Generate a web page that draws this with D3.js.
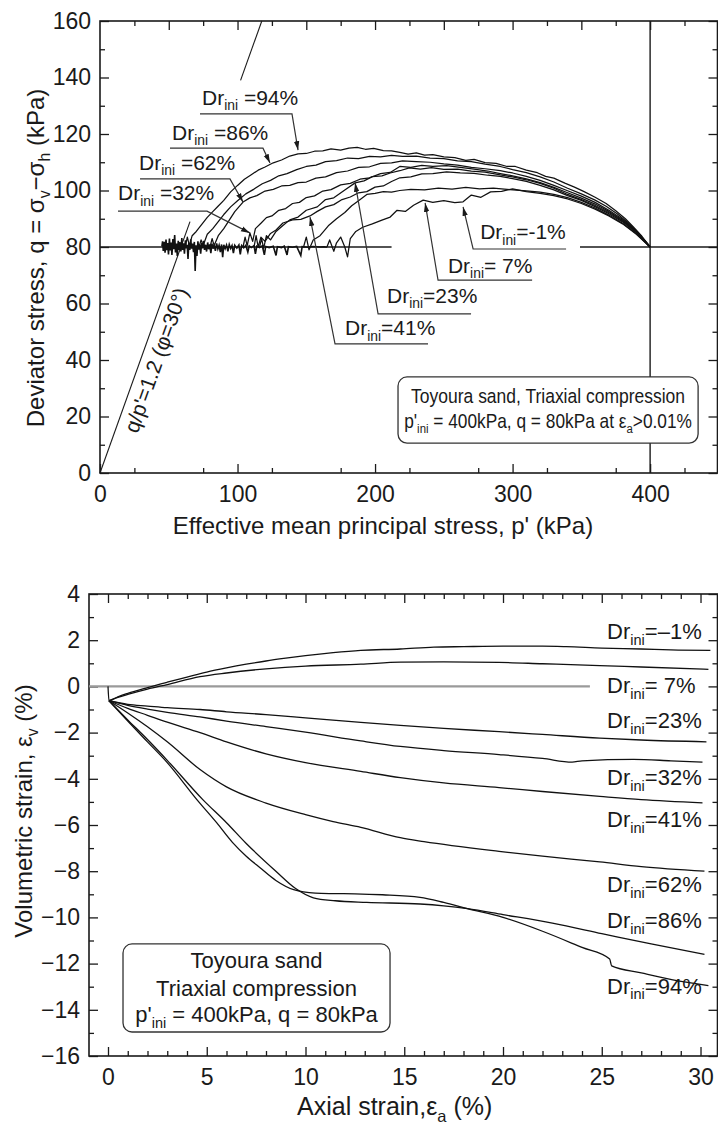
<!DOCTYPE html>
<html>
<head>
<meta charset="utf-8">
<script src="https://cdn.jsdelivr.net/npm/d3@7"></script>
<style>
  body { margin: 0; background: #fff; }
  svg { display: block; font-family: "Liberation Sans", Arial, sans-serif; }
</style>
</head>
<body>
<svg id="chart" width="718" height="1125"></svg>
<script>
// ---------- top panel data: stress paths (p', q) in kPa ----------
const pTicks = [0, 100, 200, 300, 400];
const qTicks = [0, 20, 40, 60, 80, 100, 120, 140, 160];
const qInitial = 80;
const pInitial = 400;
const phiRatio = 1.36;   // slope of the drawn q/p' line

const pathDr94 = [[62,80],[63.5,83.5],[65,80.5],[67,84],[70,85.5],[74,88],[78,90.5],[82,92.5],[86,94.5],[90,96.5],[95,99.5],[100,101.8],[105,104],[110,105.6],[115,107.2],[120,108.3],[126,109.8],[132,110.8],[138,112.2],[144,113],[150,113.1],[156,113.9],[162,114],[168,114.7],[175,114.3],[181,115],[187,115.3],[193,114.6],[199,114.9],[206,114.1],[212,114],[218,113.5],[224,112.9],[230,113.3],[236,112.5],[242,112.7],[250,111.9],[258,111.6],[266,110.7],[272,111],[280,109.9],[288,109.6],[296,108.5],[302,108.5],[310,107.2],[318,106.3],[324,105],[330,104.4],[338,102.6],[345,101.2],[352,99.6],[360,97.6],[368,95.4],[375,92.8],[382,90],[388,87],[394,83.8],[400,80]];
const pathDr86 = [[72,80],[73.5,82.5],[75,80.5],[78,84.5],[82,86.5],[86,89],[90,91.5],[95,94.2],[100,96.4],[106,98.8],[112,100.5],[118,102.4],[124,103.6],[130,105.2],[136,106],[143,107.4],[150,108.5],[157,109],[164,110.2],[172,110.6],[180,111.5],[188,111.3],[196,112.1],[204,111.9],[212,112.4],[220,112.1],[230,112.2],[240,111.5],[250,111.3],[260,110.5],[270,110.2],[280,109.3],[291,108.5],[300,107.4],[310,106.3],[320,104.8],[330,103],[340,100.8],[350,98.8],[360,96.6],[368,94.4],[376,91.8],[384,88.6],[392,84.7],[400,80]];
const pathDr62 = [[80,80],[81.5,83],[83,80.5],[86,84],[90,86.5],[94,89.5],[98,92.5],[104,95.9],[109,97.4],[114,98.2],[120,99.8],[126,100.4],[132,101.6],[138,101.8],[144,102.8],[150,103],[157,104.4],[164,104.8],[172,106.3],[180,106.9],[188,108.2],[196,108.4],[204,109.6],[212,109.8],[220,110.5],[230,110.2],[240,110],[250,109.4],[260,109],[270,108.2],[280,107.7],[291,107],[300,106.2],[310,105],[320,103.6],[330,101.8],[340,99.9],[350,98],[360,95.8],[370,93],[380,89.8],[390,85.6],[400,80]];
const pathDr32 = [[104,80],[105.5,83.5],[107,80.5],[109,85],[111,82],[113,86.5],[117,88.4],[121,90.4],[125,91],[130,93],[135,93.6],[140,95.4],[145,95.8],[150,97.5],[156,98.1],[162,99.8],[168,100.3],[175,102],[182,102.5],[189,104],[196,104.5],[204,106],[211,106.4],[218,108.5],[226,108.2],[234,108.9],[242,108.5],[252,108.8],[262,108.2],[272,107.6],[282,106.9],[291,106],[300,105.2],[310,104.1],[320,102.8],[330,101.1],[340,99.2],[350,97.3],[360,95.2],[370,92.6],[380,89.5],[390,85.5],[400,80]];
const pathDr41 = [[112,80],[113.5,84],[115,80],[117,83.5],[120,82],[124,84.8],[128,86],[133,88.5],[140,89.6],[146,89.8],[152.7,91],[158,92.6],[164,94.2],[170,95],[176,96.8],[182,97.7],[188,99.2],[194,99.6],[200,101.2],[206,101.6],[212,103.2],[218,104.5],[226,104.8],[234,105.9],[242,106],[252,106.6],[262,106.2],[272,106.1],[282,105.4],[291,105],[300,104.2],[310,103.2],[320,101.8],[330,100.2],[340,98.2],[350,96.5],[360,94.3],[370,91.8],[380,88.9],[390,85],[400,80]];
const pathDr23 = [[116,80],[117.5,83],[119,79.5],[121,84],[124,82.5],[128,85.5],[133,87.6],[138,89.6],[144,90.6],[150,93],[158,94.2],[164,96.8],[170,97.4],[178,100.2],[185.5,102.7],[192,103.4],[198,104.9],[205,105.2],[211,106.2],[218,107],[225,108],[233,107.6],[241,108.1],[250,107.5],[260,107.6],[270,106.9],[280,106.5],[291,105.5],[300,104.8],[310,103.8],[320,102.5],[330,100.8],[340,98.6],[350,96.8],[360,94.7],[370,92.2],[380,89.2],[390,85.3],[400,80]];
const pathDr7 = [[148,80],[150,83.5],[152,79],[155,82.5],[160,84],[166,87.5],[172,90],[178,92.2],[183,94.6],[188,96.4],[194,98.6],[200,99],[206,99.6],[212,99.4],[218,100],[226,100.4],[236,100.2],[246,100.8],[256,100.5],[266,101.1],[276,100.6],[286,100.8],[298,100.3],[310,99.9],[320,99.4],[330,98.6],[340,97.5],[350,95.8],[360,93.8],[370,91.3],[380,88.4],[390,84.7],[400,80]];
const pathDrM1 = [[165,80],[167,82.5],[170,78.5],[172,81.5],[175,83.5],[178,80],[180,76.5],[182,83],[186,85.5],[191,87],[198,88.2],[205,89.5],[211,90.6],[216,93],[222,92.6],[228,94.8],[235,96.6],[242,95.8],[250,96.4],[258,95.7],[264,96],[270,98.4],[277,97.6],[284,99.5],[292,99.7],[300,100.6],[310,99.6],[320,99],[330,98.2],[340,97],[350,95.4],[360,93.4],[370,91],[380,88.2],[390,84.5],[400,80]];
// scatter of readings while q was held at 80 kPa
const noise80 = [[45,80.2],[45.5,82],[46,78.6],[46.8,81.8],[47.3,78],[48,82.6],[48.6,78.9],[49.2,81.4],[49.8,77.4],[50.5,83],[51,78.8],[51.7,81.6],[52.3,77.2],[53,82.8],[53.6,79.2],[54.3,84.2],[54.9,78.1],[55.6,81.2],[56.2,76.8],[56.9,82.2],[57.5,79],[58.2,81.7],[58.8,78.4],[59.5,83.2],[60.1,79],[60.8,81.3],[61.4,77.6],[62.1,82.4],[62.7,79.5],[63.4,80.8],[64,75.8],[64.6,81.4],[65.3,79],[66,82.7],[66.6,79.4],[67.3,81.2],[68,78.2],[68.6,81.8],[69.2,71.5],[69.8,80.6],[70.5,76.8],[71.2,82],[71.8,79.1],[72.5,80.9],[73.2,77.6],[73.9,81.4],[74.6,79.5],[75.3,82.2],[76,79],[76.8,80.8],[77.5,78.4],[78.3,81.6],[79,79.2],[79.8,80.9],[80.6,77.8],[81.4,81.2],[82.2,79.4],[83,80.7],[83.9,78.6],[84.8,81.3],[85.7,79.3],[86.6,80.6],[87.5,78.2],[88.4,80.9],[89.2,76.4],[90,80.8],[91,79.4],[92,80.7],[93,78.5],[94,80.9],[95,79.5],[96,80.5],[97,77.8],[98,80.6],[99.5,79.6],[101,80.7],[102,77.4],[103,80.5],[104.5,79.7],[106,80.6],[107.5,78.2],[108.5,80.4],[110,79.8],[112,80.5],[113,77.6],[114,80.3],[116,79.8],[118,80.4],[119.5,77.2],[120.5,80.2],[123,79.8],[126,80.3],[128,77],[129,80.1],[132,79.8],[134,80.3],[136,77.2],[137,80.1],[140,79.9],[143,80.2],[146,77],[147,80.1],[151,79.9],[155,80.2],[160,80],[163,80.1],[165,79.9]];
const topPaths = [pathDr94, pathDr86, pathDr62, pathDr32, pathDr41, pathDr23, pathDr7, pathDrM1];

// ---------- bottom panel data: axial strain vs volumetric strain (%) ----------
const eaTicks = [0, 5, 10, 15, 20, 25, 30];
const evTicks = [-16, -14, -12, -10, -8, -6, -4, -2, 0, 2, 4];
const zeroLine = [[-0.96, 0], [24.4, 0]];
const evDrM1 = [[0,0],[0.05,-0.62],[0.5,-0.45],[1,-0.3],[2,-0.05],[3,0.18],[4,0.4],[5,0.62],[6,0.8],[7,0.96],[8,1.1],[9,1.22],[10,1.33],[11.4,1.46],[12.8,1.56],[14.8,1.62],[16.5,1.7],[18,1.72],[20,1.74],[22,1.74],[23.2,1.72],[25,1.66],[27,1.62],[28.5,1.58],[30.5,1.56]];
const evDr7 = [[0.05,-0.62],[0.5,-0.48],[1,-0.35],[2,-0.12],[3,0.08],[4.66,0.42],[6,0.58],[8,0.76],[10,0.88],[12.8,0.96],[14.8,1.05],[17,1.06],[19.8,1.04],[22,0.98],[24.9,0.9],[27,0.84],[30.4,0.74]];
const evDr23 = [[0.05,-0.62],[1,-0.78],[2,-0.85],[3,-0.92],[4.66,-1.0],[6,-1.1],[8,-1.22],[10,-1.36],[12.8,-1.56],[14.8,-1.69],[17,-1.82],[19.8,-1.96],[22,-2.08],[24.9,-2.24],[27,-2.32],[30.3,-2.4]];
const evDr32 = [[0.05,-0.62],[1,-0.82],[2,-0.98],[3,-1.12],[4.66,-1.32],[6,-1.5],[8,-1.74],[10,-1.98],[12.8,-2.36],[14.8,-2.6],[17,-2.78],[19.8,-2.95],[22,-3.12],[23.5,-3.28],[24,-3.22],[26.6,-3.16],[28.5,-3.22],[30.1,-3.28]];
const evDr41 = [[0.05,-0.62],[1,-0.95],[2,-1.25],[3,-1.55],[4.66,-2.0],[6,-2.4],[8,-2.92],[10,-3.3],[12.8,-3.68],[14.8,-3.95],[17,-4.18],[19.8,-4.38],[22,-4.55],[24.9,-4.76],[27,-4.9],[30.1,-5.04]];
const evDr62 = [[0.05,-0.62],[1,-1.15],[2,-1.75],[3,-2.4],[4.66,-3.6],[6,-4.35],[8,-5.05],[10,-5.55],[11.4,-5.85],[12.8,-6.1],[14.8,-6.55],[16,-6.72],[19.8,-7.14],[22,-7.35],[24.9,-7.6],[27,-7.8],[30.2,-8.0]];
const evDr86 = [[0.05,-0.62],[1,-1.45],[2,-2.3],[3,-3.2],[4.8,-4.9],[6,-5.9],[7,-6.8],[8.5,-8.0],[9.5,-8.75],[10.4,-9.15],[11.5,-9.28],[13.1,-9.35],[15.8,-9.42],[17,-9.5],[18.2,-9.62],[20,-9.88],[22.5,-10.25],[25,-10.7],[27.5,-11.15],[30.2,-11.6]];
const evDr94 = [[0.05,-0.62],[1,-1.5],[2,-2.4],[3,-3.3],[4.5,-4.9],[5.5,-5.9],[6.3,-6.75],[7,-7.35],[7.7,-7.85],[8.5,-8.4],[9.4,-8.8],[10.5,-8.95],[11.4,-8.97],[12.5,-8.98],[13.9,-9.02],[15.8,-9.13],[17,-9.35],[18.2,-9.62],[20,-10.0],[22,-10.6],[24,-11.3],[25.4,-11.8],[25.5,-12.1],[27,-12.4],[28.6,-12.7],[30.4,-12.95]];
const bottomPaths = [evDrM1, evDr7, evDr23, evDr32, evDr41, evDr62, evDr86, evDr94];
const bottomLabels = ["\u20131%", " 7%", "23%", "32%", "41%", "62%", "86%", "94%"];

// ---------- layout ----------
const svg = d3.select("#chart");
const ink = "#1a1a1a";
const tickFont = 23;

const xP = d3.scaleLinear().domain([0, 449]).range([100, 717.5]);
const yQ = d3.scaleLinear().domain([0, 160]).range([473, 21]);
const xA = d3.scaleLinear().domain([-0.962, 30.86]).range([89, 717.5]);
const yV = d3.scaleLinear().domain([-16, 4]).range([1056, 594]);

const defs = svg.append("defs");
defs.append("marker")
  .attr("id", "arr").attr("viewBox", "0 0 10 10")
  .attr("refX", 10).attr("refY", 5)
  .attr("markerUnits", "userSpaceOnUse")
  .attr("markerWidth", 9).attr("markerHeight", 9)
  .attr("orient", "auto")
  .append("path").attr("d", "M0,2 L10,5 L0,8 z").attr("fill", ink);

// text with subscripts: parts = [[text, isSub], ...]
function rich(sel, parts, size) {
  let down = false;
  parts.forEach(function(pt) {
    const ts = sel.append("tspan").text(pt[0]);
    if (pt[1]) {
      ts.attr("font-size", size * 0.66).attr("dy", size * 0.26);
      down = true;
    } else {
      ts.attr("font-size", size);
      if (down) { ts.attr("dy", -size * 0.26); down = false; }
    }
  });
  return sel;
}

function frameAxes(g, x, y, o) {
  const [x0, x1] = x.range();
  const [y0, y1] = y.range();
  function tk(axis, tr, vals, size, fmt, pad) {
    const a = g.append("g").attr("transform", tr)
      .call(axis.tickValues(vals).tickSize(size).tickPadding(pad || 3).tickFormat(fmt || ""));
    a.select(".domain").remove();
    a.selectAll("line").attr("stroke", ink).attr("stroke-width", 1.3);
    a.selectAll("text").attr("font-size", tickFont).attr("fill", ink)
      .attr("font-family", "Liberation Sans, Arial, sans-serif");
    return a;
  }
  // minor ticks
  tk(d3.axisBottom(x), `translate(0,${y0})`, o.xMinor, -5);
  tk(d3.axisTop(x), `translate(0,${y1})`, o.xMinor, -5);
  tk(d3.axisLeft(y), `translate(${x0},0)`, o.yMinor, -5);
  tk(d3.axisRight(y), `translate(${x1},0)`, o.yMinor, -5);
  // major ticks with labels
  tk(d3.axisBottom(x), `translate(0,${y0})`, o.xMajor, -9, o.xFmt, 13);
  tk(d3.axisTop(x), `translate(0,${y1})`, o.xMajorTop, -9);
  tk(d3.axisLeft(y), `translate(${x0},0)`, o.yMajor, -9, o.yFmt, 9);
  tk(d3.axisRight(y), `translate(${x1},0)`, o.yMajor, -9);
  g.append("rect")
    .attr("x", x0).attr("y", y1).attr("width", x1 - x0).attr("height", y0 - y1)
    .attr("fill", "none").attr("stroke", ink).attr("stroke-width", 1.6);
}

// ================= TOP PANEL =================
const gt = svg.append("g");
frameAxes(gt, xP, yQ, {
  xMinor: d3.range(25, 449, 50), xMajor: pTicks, xMajorTop: d3.range(50, 449, 50),
  yMinor: d3.range(10, 160, 20), yMajor: qTicks,
  xFmt: d3.format("d"), yFmt: d3.format("d")
});

// reference lines q = 80 and p' = 400
const refLine = d3.line().x(d => xP(d[0])).y(d => yQ(d[1]));
gt.append("path").attr("d", refLine([[0, qInitial], [212, qInitial]]))
  .attr("stroke", ink).attr("stroke-width", 1.4).attr("fill", "none");
gt.append("path").attr("d", refLine([[349, qInitial], [449, qInitial]]))
  .attr("stroke", ink).attr("stroke-width", 1.4).attr("fill", "none");
gt.append("path").attr("d", refLine([[pInitial, 0], [pInitial, 160]]))
  .attr("stroke", ink).attr("stroke-width", 1.4).attr("fill", "none");

// q/p' line, drawn in two pieces
[[0, 89], [139, 160]].forEach(function(seg) {
  gt.append("path")
    .attr("d", refLine(seg.map(q => [q / phiRatio, q])))
    .attr("stroke", ink).attr("stroke-width", 1.1).attr("fill", "none");
});
const ang = Math.atan2(yQ(phiRatio * 10) - yQ(0), xP(10) - xP(0)) * 180 / Math.PI;
gt.append("text")
  .attr("transform", `translate(${xP(40.7)},${yQ(40)}) rotate(${ang})`)
  .attr("text-anchor", "middle").attr("dominant-baseline", "central")
  .attr("font-size", 21).attr("fill", ink)
  .text("q/p'=1.2 (\u03C6=30\u00B0)");

// noise band at q = 80
gt.append("path").attr("d", refLine(noise80))
  .attr("stroke", "#111").attr("stroke-width", 1.6).attr("fill", "none");

// stress paths
gt.append("g").selectAll("path").data(topPaths).enter().append("path")
  .attr("d", d => refLine(d))
  .attr("fill", "none").attr("stroke", "#111").attr("stroke-width", 1.25)
  .attr("stroke-linejoin", "round");

// labels with leader arrows (positions in data units)
const topNotes = [
  { dr: " =94%", tx: 74.2, ty: 130.3, u0: 72.7, u1: 139.6, uy: 127.1, tip: [144, 114.3], side: "L" },
  { dr: " =86%", tx: 52.4, ty: 117.9, u0: 50.9, u1: 118.5, uy: 115.0, tip: [123.6, 109.7], side: "L" },
  { dr: " =62%", tx: 28.4, ty: 107.3, u0: 29.1, u1: 94.5, uy: 104.1, tip: [104, 95.9], side: "L" },
  { dr: " =32%", tx: 13.1, ty: 96.6, u0: 13.1, u1: 77.8, uy: 92.7, tip: [109, 85.0], side: "L" },
  { dr: "=-1%", tx: 276.4, ty: 82.8, u0: 271.3, u1: 338.9, uy: 79.3, tip: [264, 94.2], side: "R" },
  { dr: "= 7%", tx: 253, ty: 70.8, u0: 245.8, u1: 314.2, uy: 68.3, tip: [236.4, 95.6], side: "R" },
  { dr: "=23%", tx: 208.7, ty: 60.2, u0: 202.2, u1: 269.8, uy: 56.3, tip: [185.5, 102.7], side: "R" },
  { dr: "=41%", tx: 178.2, ty: 48.8, u0: 170.9, u1: 238.5, uy: 45.7, tip: [152.7, 90.6], side: "R" }
];
topNotes.forEach(function(n) {
  const pts = n.side === "L"
    ? [[n.u0, n.uy], [n.u1, n.uy], n.tip]
    : [[n.u1, n.uy], [n.u0, n.uy], n.tip];
  gt.append("path").attr("d", refLine(pts))
    .attr("fill", "none").attr("stroke", "#333").attr("stroke-width", 1.2)
    .attr("marker-end", "url(#arr)");
  rich(gt.append("text").attr("x", xP(n.tx)).attr("y", yQ(n.ty)).attr("fill", ink),
    [["Dr", false], ["ini", true], [n.dr, false]], 21);
});

// info box
const tb = { p0: 216.7, p1: 434.9, q0: 10.6, q1: 34.0 };
gt.append("rect")
  .attr("x", xP(tb.p0)).attr("y", yQ(tb.q1))
  .attr("width", xP(tb.p1) - xP(tb.p0)).attr("height", yQ(tb.q0) - yQ(tb.q1))
  .attr("rx", 9).attr("fill", "#fff").attr("stroke", "#333").attr("stroke-width", 1.3);
const tbx = (xP(tb.p0) + xP(tb.p1)) / 2;
// the box text is set narrow in the original, so squeeze it horizontally
function squeezed(yBase, width, parts) {
  const g = gt.append("g");
  const t = rich(g.append("text").attr("x", 0).attr("y", 0)
    .attr("text-anchor", "middle").attr("fill", ink), parts, 20.5);
  const w = t.node().getComputedTextLength();
  g.attr("transform", `translate(${tbx},${yBase}) scale(${width / w},1)`);
}
squeezed(403, 274, [["Toyoura sand, Triaxial compression", false]]);
squeezed(428, 288, [["p'", false], ["ini", true], [" = 400kPa, q = 80kPa at \u03B5", false], ["a", true], [">0.01%", false]]);

// axis titles
gt.append("text").attr("x", 383).attr("y", 534).attr("text-anchor", "middle")
  .attr("font-size", 24).attr("fill", ink)
  .text("Effective mean principal stress, p' (kPa)");
rich(gt.append("text").attr("transform", "translate(44,258) rotate(-90)")
  .attr("text-anchor", "middle").attr("fill", ink),
  [["Deviator stress, q = \u03C3", false], ["v", true], ["\u2212\u03C3", false], ["h", true], [" (kPa)", false]], 24);

// ================= BOTTOM PANEL =================
const gb = svg.append("g");
frameAxes(gb, xA, yV, {
  xMinor: d3.range(0, 31, 1).filter(v => v % 5 !== 0), xMajor: eaTicks, xMajorTop: eaTicks,
  yMinor: d3.range(-15, 4, 2), yMajor: evTicks,
  xFmt: d3.format("d"), yFmt: v => (v < 0 ? "\u2212" + Math.abs(v) : String(v))
});

const evLine = d3.line().x(d => xA(d[0])).y(d => yV(d[1]));
gb.append("path").attr("d", evLine(zeroLine))
  .attr("stroke", "#9a9a9a").attr("stroke-width", 2.4).attr("fill", "none");

const smooth = d3.line().x(d => xA(d[0])).y(d => yV(d[1])).curve(d3.curveMonotoneX);
gb.append("g").selectAll("path").data(bottomPaths).enter().append("path")
  .attr("d", d => smooth(d))
  .attr("fill", "none").attr("stroke", "#111").attr("stroke-width", 1.3);

// right-hand labels
const labelEv = [2.05, -0.29, -1.80, -4.27, -6.09, -8.90, -10.46, -13.3];
bottomLabels.forEach(function(t, i) {
  rich(gb.append("text").attr("x", xA(25.27)).attr("y", yV(labelEv[i])).attr("fill", ink),
    [["Dr", false], ["ini", true], ["=" + t, false]], 22);
});

// info box
const bb = { a0: 0.76, a1: 14.28, v0: -14.96, v1: -11.15 };
gb.append("rect")
  .attr("x", xA(bb.a0)).attr("y", yV(bb.v1))
  .attr("width", xA(bb.a1) - xA(bb.a0)).attr("height", yV(bb.v0) - yV(bb.v1))
  .attr("rx", 9).attr("fill", "#fff").attr("stroke", "#333").attr("stroke-width", 1.3);
const bbx = (xA(bb.a0) + xA(bb.a1)) / 2;
gb.append("text").attr("x", bbx).attr("y", 968).attr("text-anchor", "middle")
  .attr("font-size", 22).attr("fill", ink).text("Toyoura sand");
gb.append("text").attr("x", bbx).attr("y", 996).attr("text-anchor", "middle")
  .attr("font-size", 22).attr("fill", ink).text("Triaxial compression");
rich(gb.append("text").attr("x", bbx).attr("y", 1022).attr("text-anchor", "middle").attr("fill", ink),
  [["p'", false], ["ini", true], [" = 400kPa, q = 80kPa", false]], 22);

// axis titles
rich(gb.append("text").attr("x", 297).attr("y", 1115).attr("fill", ink),
  [["Axial strain,\u03B5", false], ["a", true], [" (%)", false]], 25);
rich(gb.append("text").attr("transform", "translate(32,811) rotate(-90)")
  .attr("text-anchor", "middle").attr("fill", ink),
  [["Volumetric strain, \u03B5", false], ["v", true], [" (%)", false]], 24);
</script>
</body>
</html>
